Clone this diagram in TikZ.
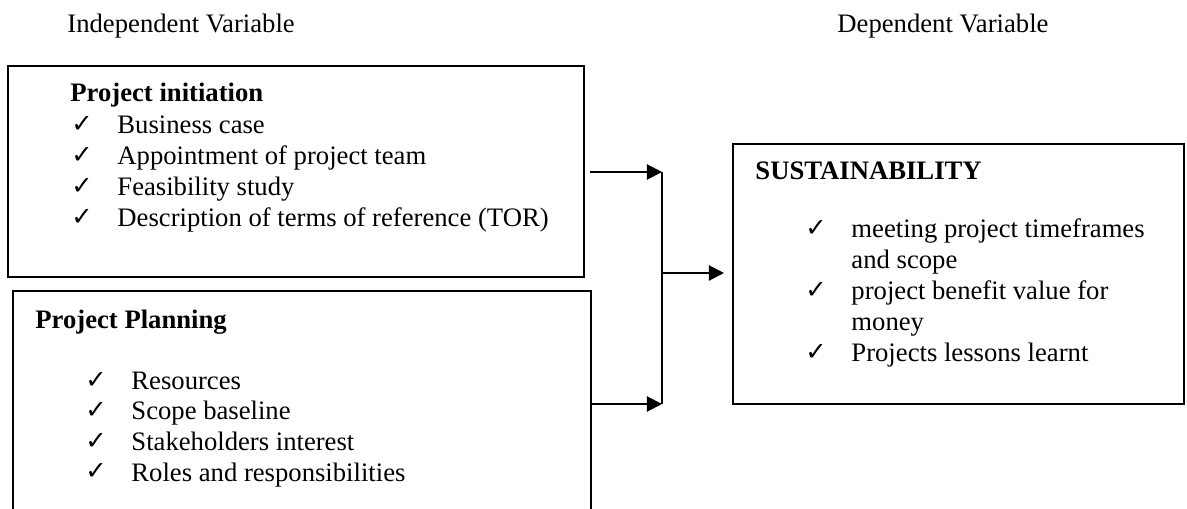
\documentclass[tikz,border=0pt]{standalone}
\usepackage{fontspec}
\setmainfont{Liberation Serif}
\newfontfamily\symfont{DejaVu Sans}
\usetikzlibrary{arrows.meta,positioning}
\newcommand{\ck}{\makebox[20.7pt][l]{\raisebox{0.8pt}{\symfont\bfseries\fontsize{11.5}{12}\selectfont ✓}}}

\begin{document}
\begin{tikzpicture}[x=0.45pt,y=-0.45pt,
    box/.style={draw,line width=0.9pt,inner sep=0pt},
    txt/.style={anchor=base west,inner sep=0pt,font=\fontsize{12}{13.8}\selectfont},
    head/.style={txt,font=\fontsize{12}{13.8}\selectfont\bfseries},
    link/.style={line width=0.9pt},
    arr/.style={link,-{Triangle[length=6.8pt,width=6.8pt]}}]
  \useasboundingbox (0,0) rectangle (1187,509);
  \clip (0,0) rectangle (1187,509);
  % headings
  \node[txt] (indep) at (67,33) {Independent Variable};
  \node[txt] (dep) at (837,33) {Dependent Variable};
  % boxes
  \node[box,minimum width=259.2pt,minimum height=94.95pt] (init) at (296,171.5) {};
  \node[box,minimum width=260.1pt,minimum height=121.05pt] (plan) at (302,425.5) {};
  \node[box,minimum width=202.95pt,minimum height=117pt] (sust) at (958.5,274) {};
  % project initiation
  \node[head] (inith) at (70,102) {Project initiation};
  \node[txt] (init1) at (71,134) {\ck Business case};
  \node[txt] (init2) at (71,165) {\ck Appointment of project team};
  \node[txt] (init3) at (71,196) {\ck Feasibility study};
  \node[txt] (init4) at (71,227) {\ck Description of terms of reference (TOR)};
  % project planning
  \node[head] (planh) at (35,329) {Project Planning};
  \node[txt] (plan1) at (85,390) {\ck Resources};
  \node[txt] (plan2) at (85,420) {\ck Scope baseline};
  \node[txt] (plan3) at (85,451) {\ck Stakeholders interest};
  \node[txt] (plan4) at (85,481) {\ck Roles and responsibilities};
  % sustainability
  \node[head] (susth) at (755,180) {SUSTAINABILITY};
  \node[txt] (sust1) at (805,238) {\ck meeting project timeframes};
  \node[txt] (sust1b) at (851,269) {and scope};
  \node[txt] (sust2) at (805,300) {\ck project benefit value for};
  \node[txt] (sust2b) at (851,331) {money};
  \node[txt] (sust3) at (805,362) {\ck Projects lessons learnt};
  % connectors
  \coordinate (jtop) at (662,172);
  \coordinate (jmid) at (662,273);
  \coordinate (jbot) at (662,404);
  \begin{scope}[arr]
    \draw ([xshift=2.25pt]init.east |- jtop) to (jtop);
    \draw (plan.east |- jbot) to (jbot);
    \draw (jmid) to ([xshift=-3.6pt]sust.west |- jmid);
  \end{scope}
  \draw[link] (jtop) to (jbot);
\end{tikzpicture}
\end{document}
